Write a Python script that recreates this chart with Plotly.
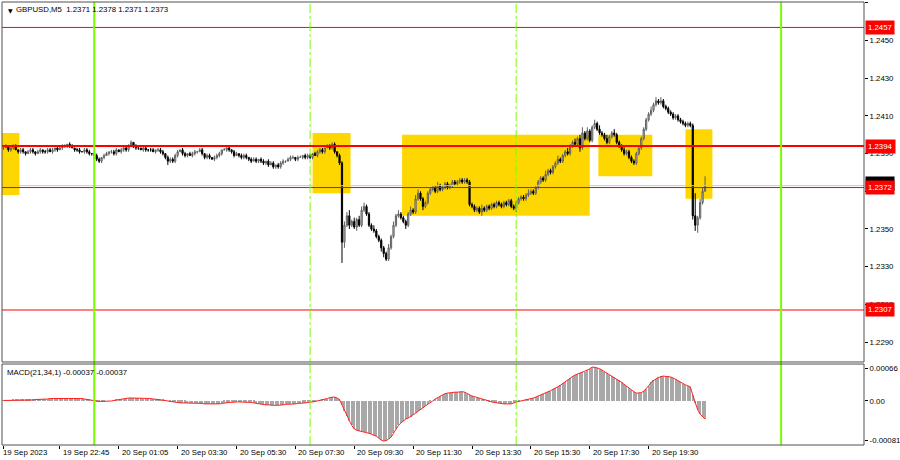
import plotly.graph_objects as go

# ---------------- data ----------------
close = [
    1.2393, 1.2394, 1.2392, 1.2393, 1.2394, 1.2392, 1.2391, 1.2392,
    1.2391, 1.2390, 1.2391, 1.2392, 1.2391, 1.2390, 1.2391, 1.2392, 1.2391, 1.2391, 1.2392, 1.2391, 1.2392, 1.2393, 1.2392, 1.2393,
    1.2394, 1.2394, 1.2395, 1.2394, 1.2393,
    1.2392, 1.2392, 1.2391, 1.2391, 1.2392, 1.2391, 1.2390, 1.2390,
    1.2389, 1.2387, 1.2386,
    1.2388, 1.2389, 1.2390, 1.2391, 1.2391, 1.2390, 1.2392, 1.2391, 1.2392, 1.2393, 1.2392,
    1.2394, 1.2396, 1.2394,
    1.2393, 1.2393, 1.2392, 1.2393, 1.2392, 1.2392, 1.2392, 1.2391, 1.2392, 1.2392, 1.2391, 1.2390,
    1.2388, 1.2386, 1.2387, 1.2386, 1.2389, 1.2391, 1.2392,
    1.2390, 1.2389, 1.2390, 1.2389, 1.2390, 1.2391,
    1.2391, 1.2392, 1.2390,
    1.2388, 1.2389, 1.2388, 1.2387, 1.2388, 1.2389, 1.2390,
    1.2392, 1.2392, 1.2393, 1.2392, 1.2391,
    1.2389, 1.2390, 1.2389, 1.2388, 1.2389, 1.2388,
    1.2387, 1.2386, 1.2387, 1.2386, 1.2387, 1.2386, 1.2385, 1.2386,
    1.2384, 1.2385, 1.2383, 1.2384, 1.2383,
    1.2385, 1.2386, 1.2386,
    1.2387, 1.2388, 1.2388, 1.2387,
    1.2388, 1.2388, 1.2389, 1.2388, 1.2389,
    1.2388, 1.2390, 1.2389, 1.2391,
    1.2392, 1.2391, 1.2393,
    1.2394, 1.2393, 1.2395,
    1.2391, 1.2389, 1.2385,
    1.2343,
    1.2352, 1.2357, 1.2352,
    1.2354, 1.2351, 1.2355, 1.2352,
    1.2360, 1.2362, 1.2358,
    1.2352, 1.2350,
    1.2349, 1.2346, 1.2344,
    1.2340, 1.2337, 1.2334,
    1.2340, 1.2346, 1.2352,
    1.2357, 1.2358, 1.2356,
    1.2354, 1.2352,
    1.2358, 1.2360, 1.2359,
    1.2366, 1.2369, 1.2366,
    1.2362, 1.2364,
    1.2369, 1.2371, 1.2372, 1.2370, 1.2373, 1.2371,
    1.2372, 1.2374, 1.2372, 1.2373, 1.2375, 1.2374,
    1.2375, 1.2376, 1.2375, 1.2376, 1.2375,
    1.2363,
    1.2362, 1.2360, 1.2361, 1.2359, 1.2361, 1.2360, 1.2362, 1.2361,
    1.2363, 1.2362, 1.2364, 1.2363, 1.2362, 1.2364,
    1.2363, 1.2365, 1.2362, 1.2361, 1.2364,
    1.2366, 1.2367, 1.2366, 1.2368,
    1.2369, 1.2370, 1.2369, 1.2372,
    1.2375, 1.2377, 1.2376, 1.2379,
    1.2381, 1.2380, 1.2383,
    1.2385, 1.2387, 1.2386,
    1.2389, 1.2391, 1.2390,
    1.2394, 1.2396, 1.2395,
    1.2398, 1.2393, 1.2401,
    1.2398, 1.2402, 1.2397,
    1.2404, 1.2406,
    1.2403, 1.2401,
    1.2400, 1.2398,
    1.2396, 1.2399,
    1.2401, 1.2400,
    1.2396, 1.2394,
    1.2392, 1.2390, 1.2391,
    1.2388, 1.2386, 1.2385,
    1.2390, 1.2393,
    1.2398, 1.2403, 1.2408, 1.2411,
    1.2413, 1.2416, 1.2418, 1.2417, 1.2418, 1.2415, 1.2414, 1.2412,
    1.2411, 1.2409, 1.2410, 1.2408, 1.2407, 1.2406, 1.2405, 1.2406, 1.2405,
    1.2357, 1.2352, 1.2356, 1.2364, 1.2370, 1.2373,
]

# upper / lower wick beyond the body, in pips
up_pips = [
    1,1,0,1,1,1,0,1,1,0,1,1,1,0,1,1,0,1,1,1,
    1,0,1,1,1,1,0,1,1,0,1,1,0,1,1,1,0,1,1,1,
    0,1,1,0,1,1,1,0,1,1,1,1,1,0,1,1,0,1,1,0,
    1,1,0,1,1,1,0,1,1,1,1,1,0,1,1,0,1,1,1,0,
    1,1,0,1,1,0,1,1,1,0,1,1,1,0,1,1,0,1,1,1,
    0,1,1,1,0,1,1,0,1,1,1,0,1,1,1,0,1,1,1,0,
    1,1,0,1,1,1,0,1,1,1,1,0,1,1,1,1,0,1,1,2,
    2,3,1,2,1,2,2,2,1,1,1,2,1,1,1,1,1,2,1,2,
    1,2,1,1,1,1,2,1,2,2,1,1,1,1,1,1,1,2,1,1,
    1,1,1,1,1,1,1,1,1,1,1,1,1,1,1,2,1,1,1,1,
    1,1,1,1,1,1,1,1,1,1,1,1,1,1,2,1,1,1,1,1,
    1,2,1,1,1,1,2,1,1,1,2,1,1,2,1,2,3,1,2,1,
    1,2,1,2,1,1,2,1,1,2,1,1,1,2,1,1,1,1,1,1,
    1,1,1,1,2,1,2,1,2,1,1,1,1,1,1,1,1,1,1,1,
    1,1,12,1,2,2,5,
]
dn_pips = [
    1,0,1,1,1,0,1,1,1,1,0,1,1,1,0,1,1,1,1,0,
    1,1,1,0,1,1,1,1,0,1,1,1,0,1,1,1,1,2,1,1,
    1,1,0,1,1,1,1,0,1,1,1,1,0,1,1,1,0,1,1,1,
    1,0,1,1,1,1,1,2,1,1,1,1,0,1,1,1,0,1,1,1,
    0,1,1,1,1,0,1,1,1,1,0,1,1,1,1,0,1,1,1,1,
    1,1,0,1,1,1,1,1,1,0,1,1,1,1,1,1,0,1,1,1,
    1,0,1,1,1,1,1,0,1,1,1,1,0,1,1,1,1,1,11,3,
    1,2,1,1,2,1,1,1,1,1,1,1,1,1,2,2,1,1,1,1,
    1,1,1,1,2,1,1,1,1,1,1,2,1,1,1,1,1,1,1,1,
    1,1,1,1,1,1,1,1,1,1,1,1,1,1,1,2,1,1,1,1,
    1,1,1,1,1,1,1,1,1,2,1,1,1,1,1,1,1,1,1,1,
    1,1,1,1,1,1,1,1,1,1,1,1,1,1,1,2,1,1,1,1,
    1,1,1,1,1,1,1,1,1,1,1,1,1,1,1,1,1,1,1,1,
    1,1,1,1,1,1,1,1,1,1,1,1,1,1,1,1,1,1,1,1,
    1,2,3,4,1,1,0,
]

# MACD(21,34,1) main value, in units of 1e-5
macd_e5 = [
    1,1,1,1,2,2,2,2,2,2,2,
    2,2,3,3,3,4,4,4,5,5,5,5,5,
    5,5,6,6,5,5,5,5,
    5,4,3,2,1,0,
    -1,-1,-1,-1,0,0,
    0,1,2,3,4,5,5,6,
    6,6,6,6,6,5,5,5,
    5,4,4,3,2,2,
    1,0,-1,-2,-3,
    -3,-4,-4,-4,-5,-5,-5,-5,-5,-5,
    -5,-6,-6,-7,-7,-7,
    -6,-6,-5,-4,-4,-3,
    -3,-2,-2,-2,-2,-3,-3,-3,
    -3,-4,-5,-6,-6,-7,
    -8,-8,-9,-9,-9,-9,
    -8,-8,-7,-7,-6,-6,
    -6,-5,-5,-4,-4,-3,-3,
    -2,-1,0,1,2,3,
    5,7,8,8,6,3,
    -8,-20,-30,-40,-50,-57,
    -60,-61,-62,-63,-64,-66,-68,
    -70,-72,-76,-80,-82,-81,-78,
    -74,-66,-58,-50,-45,-41,
    -37,-35,-32,-29,-25,-21,-18,
    -14,-10,-7,-3,0,4,
    7,10,12,15,16,17,
    17,18,18,19,19,18,15,
    12,10,9,7,6,4,
    3,1,-1,-2,-3,-4,-5,
    -5,-6,-6,-6,-6,-4,-2,
    -1,0,1,3,4,5,
    6,8,10,12,14,16,
    19,21,24,26,29,32,
    36,39,43,46,50,53,
    55,57,59,60,63,66,69,
    69,68,66,63,60,57,
    53,51,48,45,42,38,
    34,30,26,22,19,16,
    16,17,20,25,31,38,
    42,45,48,50,51,50,
    50,49,47,44,41,38,
    35,33,31,29,
    12,-5,-18,-27,-33,-37,
]

# time axis labels (bar index where each label sits)
time_label_idx = [0, 23, 47, 71, 95, 119, 143, 167, 191, 215, 239, 263]
time_labels = ["19 Sep 2023", "19 Sep 22:45", "20 Sep 01:05", "20 Sep 03:30",
               "20 Sep 05:30", "20 Sep 07:30", "20 Sep 09:30", "20 Sep 11:30",
               "20 Sep 13:30", "20 Sep 15:30", "20 Sep 17:30", "20 Sep 19:30"]

price_ticks = [1.2290, 1.2310, 1.2330, 1.2350, 1.2370, 1.2390, 1.2410, 1.2430, 1.2450, 1.2470]
macd_ticks = [0.00066, 0.0, -0.00081]
macd_tick_text = ["0.00066", "0.00", "-0.00081"]

levels = [1.2457, 1.2394, 1.2372, 1.2307]
level_width = [1, 2, 1, 1]
bid_price = 1.2373

# rectangles (bar index from/to, price top/bottom)
box_x0 = [-2, 126, 162.5, 242.5, 278]
box_x1 = [6.5, 141.5, 239, 264.5, 289]
box_top = [1.2401, 1.2401, 1.2400, 1.2400, 1.2403]
box_bot = [1.2368, 1.2369, 1.2357, 1.2378, 1.2366]

vline_solid = [37, 317]
vline_dash = [125, 209]

title_text = "GBPUSD,M5  1.2371 1.2378 1.2371 1.2373"
macd_text = "MACD(21,34,1) -0.00037 -0.00037"

# ---------------- derived OHLC ----------------
pip = 0.0001
n = len(close)
idx = list(range(n))
open_ = [close[0]] + close[:-1]
high = [max(o, c) + u * pip for o, c, u in zip(open_, close, up_pips)]
low = [min(o, c) - d * pip for o, c, d in zip(open_, close, dn_pips)]
macd = [v * 1e-5 for v in macd_e5]

FONT = "Liberation Sans"
FS = 7.8

fig = go.Figure()
fig.add_trace(go.Candlestick(
    x=idx, open=open_, high=high, low=low, close=close,
    increasing=dict(line=dict(color="#606060", width=1), fillcolor="#d0d0d0"),
    decreasing=dict(line=dict(color="#000000", width=1), fillcolor="#000000"),
    whiskerwidth=0, xaxis="x", yaxis="y", showlegend=False, hoverinfo="skip"))

fig.add_trace(go.Bar(
    x=list(range(len(macd))), y=macd, width=0.45,
    marker=dict(color="#a8a8a8", line=dict(width=0)),
    xaxis="x2", yaxis="y2", showlegend=False, hoverinfo="skip"))
fig.add_trace(go.Scatter(
    x=list(range(len(macd))), y=macd, mode="lines",
    line=dict(color="#ff2020", width=1),
    xaxis="x2", yaxis="y2", showlegend=False, hoverinfo="skip"))

shapes = []
for x0, x1, t, b in zip(box_x0, box_x1, box_top, box_bot):
    shapes.append(dict(type="rect", xref="x", yref="y", x0=x0, x1=x1, y0=b, y1=t,
                       fillcolor="#FFD700", line=dict(width=0), layer="below"))
shapes.append(dict(type="line", xref="paper", yref="y", x0=0, x1=1, y0=bid_price, y1=bid_price,
                   line=dict(color="#c8c8c8", width=1), layer="above"))
for lv, w in zip(levels, level_width):
    shapes.append(dict(type="line", xref="paper", yref="y", x0=0, x1=1, y0=lv, y1=lv,
                       line=dict(color="#ff0000", width=w), layer="above"))
for xv in vline_solid:
    shapes.append(dict(type="line", xref="x", yref="paper", x0=xv, x1=xv, y0=0, y1=1,
                       line=dict(color="#7CFC00", width=2), layer="above"))
for xv in vline_dash:
    shapes.append(dict(type="line", xref="x", yref="paper", x0=xv, x1=xv, y0=0, y1=1,
                       line=dict(color="#7CFC00", width=1, dash="dashdot"), layer="above"))
MAIN_DOM = [0.1874, 1.0]
MACD_DOM = [0.0, 0.1828]
shapes.append(dict(type="rect", xref="paper", yref="paper", x0=0, x1=1, y0=MAIN_DOM[0], y1=MAIN_DOM[1],
                   line=dict(color="#505050", width=1), layer="above"))
shapes.append(dict(type="rect", xref="paper", yref="paper", x0=0, x1=1, y0=MACD_DOM[0], y1=MACD_DOM[1],
                   line=dict(color="#505050", width=1), layer="above"))

annotations = []
annotations.append(dict(xref="paper", yref="paper", x=0, y=1, xanchor="left", yanchor="top",
                        xshift=4, yshift=-3, text="▼", showarrow=False,
                        font=dict(family="DejaVu Sans", size=6, color="#000")))
annotations.append(dict(xref="paper", yref="paper", x=0, y=1, xanchor="left", yanchor="top",
                        xshift=12, yshift=-1, text=title_text, showarrow=False,
                        font=dict(family=FONT, size=FS, color="#000")))
annotations.append(dict(xref="paper", yref="paper", x=0, y=MACD_DOM[1], xanchor="left", yanchor="top",
                        xshift=3, yshift=-2, text=macd_text, showarrow=False,
                        font=dict(family=FONT, size=FS, color="#000")))
for xi, t in zip(time_label_idx, time_labels):
    annotations.append(dict(xref="x2", yref="paper", x=xi, y=0, xanchor="left", yanchor="top",
                            xshift=1 if xi else -2, yshift=-1, text=t, showarrow=False,
                            font=dict(family=FONT, size=FS, color="#000")))
# price labels at the right axis
annotations.append(dict(xref="paper", yref="y", x=1, y=bid_price, xanchor="left", yanchor="middle",
                        xshift=1, text="1.2373", showarrow=False, bgcolor="#000000", borderpad=2,
                        yshift=2, font=dict(family=FONT, size=FS, color="#ffffff")))
for lv in levels:
    annotations.append(dict(xref="paper", yref="y", x=1, y=lv, xanchor="left", yanchor="middle",
                            xshift=1, text=f"{lv:.4f}", showarrow=False, bgcolor="#ff0000", borderpad=2,
                            font=dict(family=FONT, size=FS, color="#ffffff")))

fig.update_layout(
    width=900, height=460,
    margin=dict(l=2, r=36, t=2, b=15, autoexpand=False),
    paper_bgcolor="#ffffff", plot_bgcolor="#ffffff",
    font=dict(family=FONT, size=FS, color="#000"),
    showlegend=False, bargap=0,
    xaxis=dict(domain=[0, 1], anchor="y", range=[-0.6, 350.8], showticklabels=False,
               showgrid=False, zeroline=False, ticks="", rangeslider=dict(visible=False),
               fixedrange=True, automargin=False),
    yaxis=dict(domain=MAIN_DOM, anchor="x", side="right", range=[1.22794, 1.24705],
               tickvals=price_ticks, ticktext=[f"{v:.4f}" for v in price_ticks],
               ticks="outside", ticklen=3, tickcolor="#000", showgrid=False, zeroline=False,
               automargin=False, tickfont=dict(family=FONT, size=FS, color="#000")),
    xaxis2=dict(domain=[0, 1], anchor="y2", range=[-0.6, 350.8], matches="x",
                tickvals=time_label_idx, ticks="outside", ticklen=3, tickcolor="#000",
                showticklabels=False, showgrid=False, zeroline=False, automargin=False),
    yaxis2=dict(domain=MACD_DOM, anchor="x2", side="right", range=[-0.0009, 0.000755],
                tickvals=macd_ticks, ticktext=macd_tick_text,
                ticks="outside", ticklen=3, tickcolor="#000", showgrid=False, zeroline=False,
                automargin=False, tickfont=dict(family=FONT, size=FS, color="#000")),
    shapes=shapes, annotations=annotations,
)

fig.write_html("out.html", config={"displayModeBar": False},
               post_script="document.body.style.margin='0px';document.body.style.overflow='hidden';")
